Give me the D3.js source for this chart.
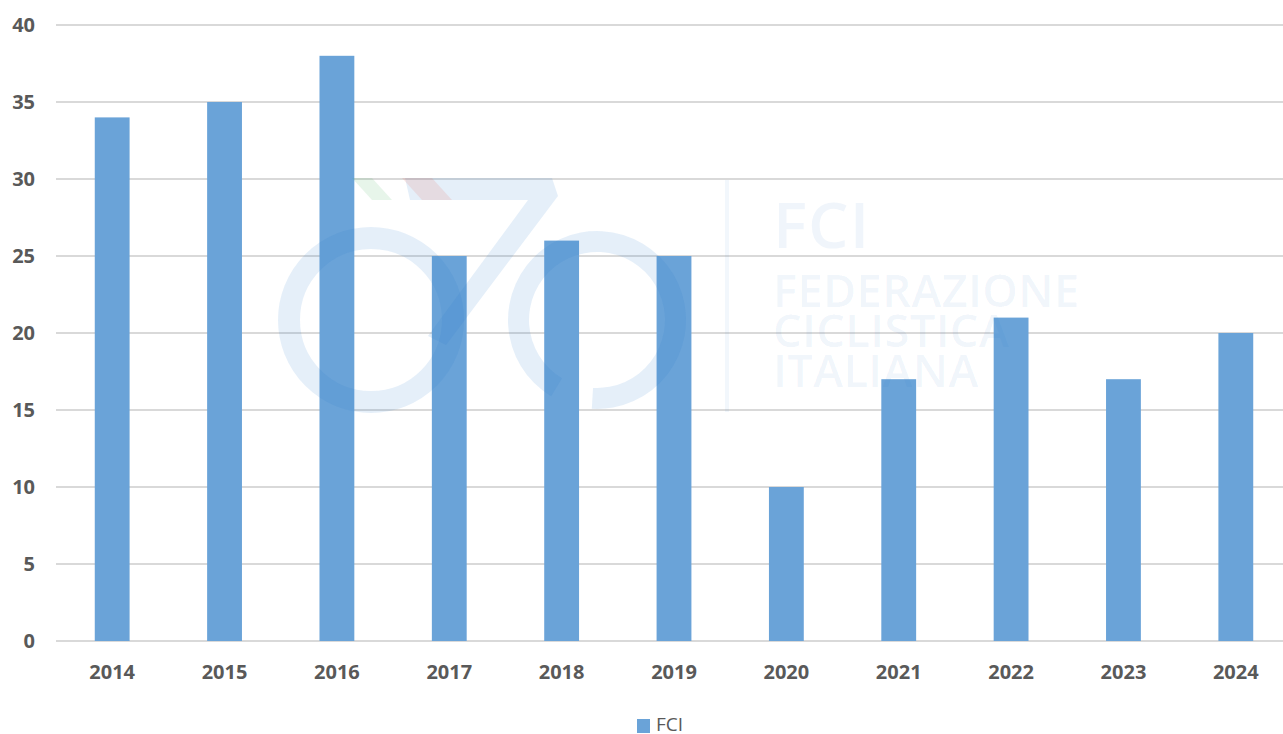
<!DOCTYPE html>
<html><head><meta charset="utf-8">
<script src="https://cdn.jsdelivr.net/npm/d3@7"></script>
<style>html,body{margin:0;padding:0;background:#fff;overflow:hidden}</style>
</head><body>
<svg id="c" width="1283" height="734"></svg>
<script>
const categories = ["2014","2015","2016","2017","2018","2019","2020","2021","2022","2023","2024"];
const seriesName = "FCI";
const values = [34,35,38,25,26,25,10,17,21,17,20];
const yTicks = [0,5,10,15,20,25,30,35,40];

(function(){
const svg = d3.select("#c");
const pL = 56, pR = 1292, pT = 25, pB = 641;
const x = d3.scaleBand().domain(categories).range([pL, pR]).paddingInner(0.69).paddingOuter(0.345);
const y = d3.scaleLinear().domain([0, 40]).range([pB, pT]);
const font = "'Open Sans', 'Liberation Sans', sans-serif";

svg.append("g").selectAll("line").data(yTicks).join("line")
  .attr("x1", pL).attr("x2", pR)
  .attr("y1", d => y(d)).attr("y2", d => y(d))
  .attr("stroke", "#d9d9d9").attr("stroke-width", 2);

svg.append("g").selectAll("text").data(yTicks).join("text")
  .attr("x", 35).attr("y", d => y(d)).attr("dy", "0.36em")
  .attr("text-anchor", "end").attr("font-family", font)
  .attr("font-weight", "bold").attr("font-size", 20).attr("fill", "#595959")
  .text(d => d);

svg.append("g").selectAll("rect").data(values).join("rect")
  .attr("x", (d, i) => x(categories[i]))
  .attr("width", x.bandwidth())
  .attr("y", d => y(d)).attr("height", d => y(0) - y(d))
  .attr("fill", "#6aa3d8");

svg.append("g").selectAll("text").data(categories).join("text")
  .attr("x", d => x(d) + x.bandwidth() / 2).attr("y", 672).attr("dy", "0.36em")
  .attr("text-anchor", "middle").attr("font-family", font)
  .attr("font-weight", "bold").attr("font-size", 20).attr("fill", "#595959")
  .text(d => d);

svg.append("rect").attr("x", 637).attr("y", 719).attr("width", 13).attr("height", 14).attr("fill", "#6aa3d8");
svg.append("text").attr("x", 656).attr("y", 731)
  .attr("font-family", font).attr("font-size", 19).attr("fill", "#595959").text(seriesName);

const wm = svg.append("g").attr("pointer-events", "none");
const wc = "rgba(40,120,205,0.12)";
wm.append("circle").attr("cx", 371).attr("cy", 320).attr("r", 82).attr("fill", "none").attr("stroke", wc).attr("stroke-width", 22);
wm.append("path").attr("d", d3.arc()({innerRadius: 68, outerRadius: 89, startAngle: -2.6, endAngle: 3.2}))
  .attr("transform", "translate(597,320)").attr("fill", wc);
wm.append("path").attr("d", "M405,178 L552,178 L558,196 L446,345 L428,336 L528,200 L410,200 Z").attr("fill", wc);
wm.append("path").attr("d", "M352,178 L372,178 L392,200 L372,200 Z").attr("fill", "rgba(60,170,80,0.12)");
wm.append("path").attr("d", "M402,178 L432,178 L452,200 L422,200 Z").attr("fill", "rgba(230,70,60,0.12)");
wm.append("rect").attr("x", 725).attr("y", 180).attr("width", 4).attr("height", 232).attr("fill", "rgba(40,120,205,0.06)");
const wt = [{t:"FCI", y:248, s:64, ls:1}, {t:"FEDERAZIONE", y:307, s:45, ls:0.5}, {t:"CICLISTICA", y:347, s:45, ls:0.5}, {t:"ITALIANA", y:387, s:45, ls:0.5}];
const tx = wm.append("text").attr("font-family", "'Open Sans', sans-serif")
  .attr("font-weight", 600).attr("fill", "rgba(40,120,205,0.07)");
tx.selectAll("tspan").data(wt).join("tspan")
  .attr("x", 773).attr("y", d => d.y).attr("font-size", d => d.s).attr("letter-spacing", d => d.ls)
  .text(d => d.t);
})();
</script>
</body></html>
